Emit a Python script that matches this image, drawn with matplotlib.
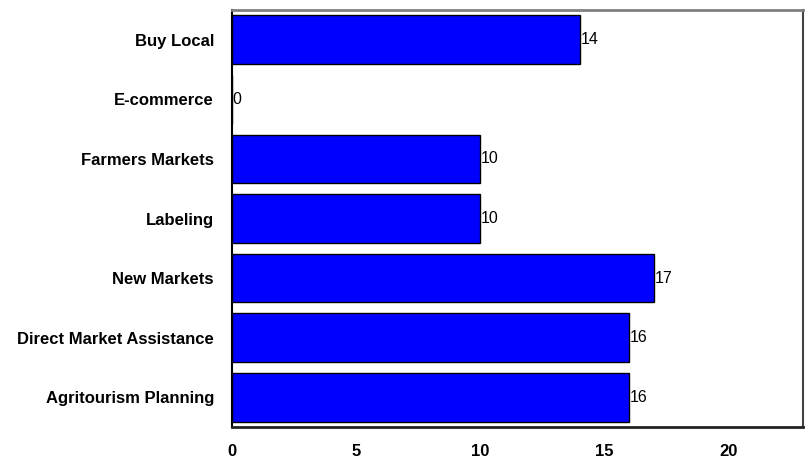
import matplotlib
matplotlib.use("Agg")
import matplotlib.pyplot as plt

categories = ["Buy Local", "E-commerce", "Farmers Markets", "Labeling",
              "New Markets", "Direct Market Assistance", "Agritourism Planning"]
counts = [14, 0, 10, 10, 17, 16, 16]
xticks = [0, 5, 10, 15, 20]

plt.rcParams['font.family'] = ['Liberation Sans', 'DejaVu Sans']

fig = plt.figure(figsize=(8.08, 4.59), dpi=100)
ax = fig.add_axes([232/808, 1 - 427/459, 571/808, 417/459])

pos = list(range(len(categories)))
bars = ax.barh(pos, counts, height=0.82, color='#0000FF', edgecolor='black', linewidth=1)
ax.set_ylim(len(categories) - 0.5, -0.5)
ax.set_xlim(0, 23)

for b, v in zip(bars, counts):
    ax.text(v + 0.03, b.get_y() + b.get_height() / 2, str(v),
            va='center', ha='left', fontsize=11.5, color='black')

ax.set_yticks(pos)
ax.set_yticklabels(categories, fontweight='bold', fontsize=12)
ax.set_xticks(xticks)
ax.set_xticklabels([str(t) for t in xticks], fontweight='bold', fontsize=12)
ax.tick_params(axis='y', length=0, pad=13)
ax.tick_params(axis='x', length=0, pad=12)

ax.spines['top'].set_color('#808080')
ax.spines['top'].set_linewidth(2)
ax.spines['left'].set_color('black')
ax.spines['left'].set_linewidth(1.5)
ax.spines['bottom'].set_color('#222222')
ax.spines['bottom'].set_linewidth(2)
ax.spines['right'].set_color('#444444')
ax.spines['right'].set_linewidth(1.5)

fig.savefig("out.png", dpi=100)
